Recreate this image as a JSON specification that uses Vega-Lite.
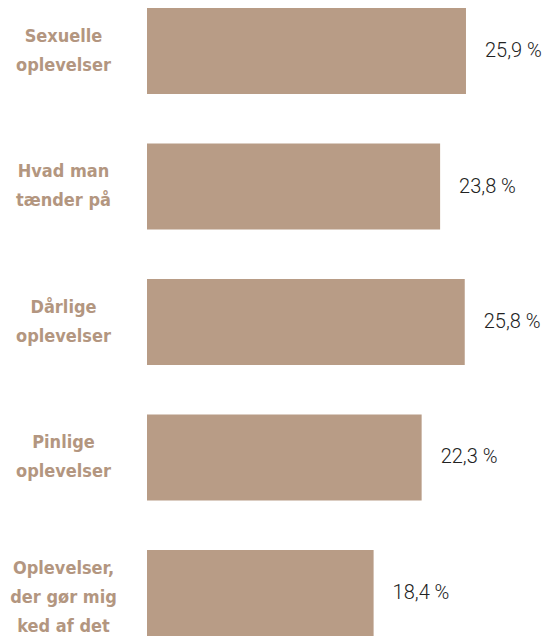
{
  "$schema": "https://vega.github.io/schema/vega-lite/v6.json",
  "autosize": {"type": "none"},
  "padding": {"left": 147, "top": 0, "right": 0, "bottom": 0},
  "width": 401,
  "height": 636,
  "background": "white",
  "config": {"view": {"stroke": null}},
  "data": {
    "values": [
      {"kategori": "Sexuelle|oplevelser", "andel": 25.9},
      {"kategori": "Hvad man|tænder på", "andel": 23.8},
      {"kategori": "Dårlige|oplevelser", "andel": 25.8},
      {"kategori": "Pinlige|oplevelser", "andel": 22.3},
      {"kategori": "Oplevelser,|der gør mig|ked af det", "andel": 18.4}
    ]
  },
  "transform": [
    {"calculate": "replace(format(datum.andel, '.1f'), '.', ',') + ' %'", "as": "tekst"}
  ],
  "encoding": {
    "y": {
      "field": "kategori",
      "type": "nominal",
      "sort": null,
      "scale": {"paddingInner": 0.365, "paddingOuter": 0.0296, "align": 1},
      "axis": {
        "title": null,
        "domain": false,
        "ticks": false,
        "labelExpr": "split(datum.value, '|')",
        "labelAlign": "center",
        "labelPadding": 84,
        "labelFont": "DejaVu Sans Condensed",
        "labelFontWeight": "bold",
        "labelFontSize": 18,
        "labelLineHeight": 29,
        "labelColor": "#b39680",
        "labelLimit": 200,
        "labelOffset": {"condition": {"test": "indexof(datum.value, 'gør') >= 0", "value": -24}, "value": -14.5}
      }
    },
    "x": {
      "field": "andel",
      "type": "quantitative",
      "scale": {"domain": [0, 32.56], "nice": false},
      "axis": null
    }
  },
  "layer": [
    {"mark": {"type": "bar", "color": "#b89c86"}},
    {
      "mark": {"type": "text", "align": "left", "baseline": "middle", "dx": 19, "font": "Roboto", "fontWeight": 300, "fontSize": 20, "color": "#222222"},
      "encoding": {"text": {"field": "tekst"}}
    }
  ]
}
